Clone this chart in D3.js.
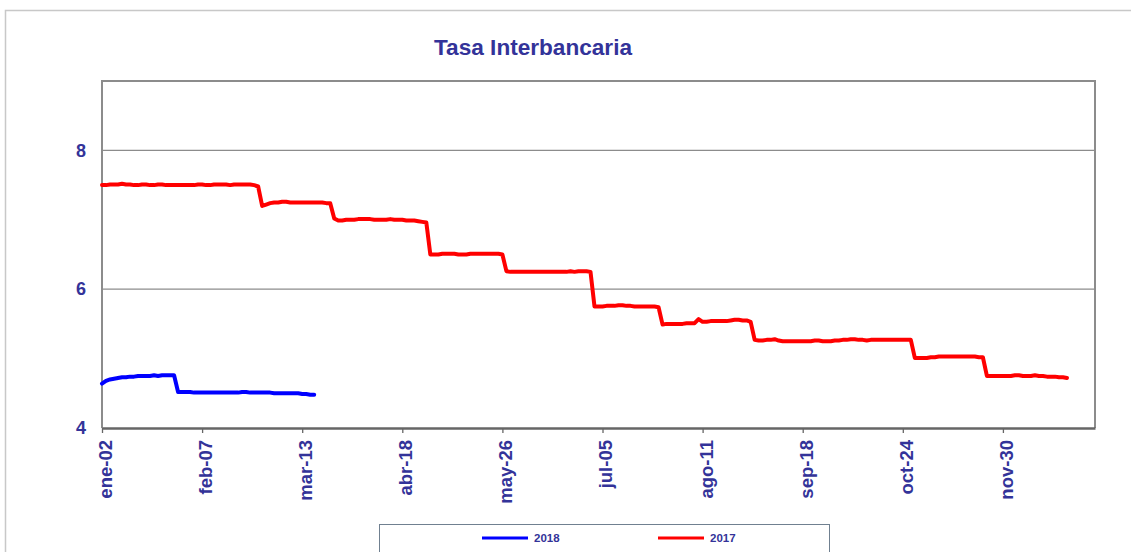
<!DOCTYPE html>
<html lang="es">
<head>
<meta charset="UTF-8">
<title>Tasa Interbancaria</title>
<script src="https://d3js.org/d3.v7.min.js"></script>
<style>
    body { margin: 0; background: #fff; }
    svg { display: block; font-family: "Liberation Sans", Arial, sans-serif; }
</style>
</head>
<body>
<svg id="chart" width="1131" height="552"></svg>
<script>
// category axis: one slot per business day, a label every 25 slots
const categoryCount = 249;
const tickStep = 25;
const tickLabels = ["ene-02", "feb-07", "mar-13", "abr-18", "may-26", "jul-05", "ago-11", "sep-18", "oct-24", "nov-30"];

const seriesNames = ["2018", "2017"];

// 2018 (blue)
const rates2018 = [
    4.64, 4.68, 4.70, 4.71, 4.72, 4.73, 4.73, 4.74, 4.74, 4.75,
    4.75, 4.75, 4.75, 4.76, 4.75, 4.76, 4.76, 4.76, 4.76, 4.52,
    4.52, 4.52, 4.52, 4.51, 4.51, 4.51, 4.51, 4.51, 4.51, 4.51,
    4.51, 4.51, 4.51, 4.51, 4.51, 4.52, 4.52, 4.51, 4.51, 4.51,
    4.51, 4.51, 4.51, 4.50, 4.50, 4.50, 4.50, 4.50, 4.50, 4.50,
    4.49, 4.49, 4.48, 4.48
];

// 2017 (red)
const rates2017 = [
    7.50, 7.50, 7.51, 7.51, 7.51, 7.52, 7.51, 7.51, 7.50, 7.50,
    7.51, 7.51, 7.50, 7.50, 7.51, 7.51, 7.50, 7.50, 7.50, 7.50,
    7.50, 7.50, 7.50, 7.50, 7.51, 7.51, 7.50, 7.50, 7.51, 7.51,
    7.51, 7.51, 7.50, 7.51, 7.51, 7.51, 7.51, 7.51, 7.50,
    7.48, 7.20, 7.22, 7.24,
    7.25, 7.25, 7.26, 7.26, 7.25, 7.25, 7.25, 7.25, 7.25, 7.25,
    7.25, 7.25, 7.25, 7.24, 7.24,
    7.02, 6.99, 6.99, 7.00, 7.00, 7.00, 7.01, 7.01, 7.01, 7.01,
    7.00, 7.00, 7.00, 7.00, 7.01, 7.00, 7.00, 7.00, 6.99, 6.99,
    6.99, 6.98, 6.97,
    6.96,
    6.50, 6.50, 6.50, 6.51, 6.51, 6.51, 6.51, 6.50, 6.50, 6.50,
    6.51, 6.51, 6.51, 6.51, 6.51, 6.51, 6.51, 6.51, 6.50,
    6.26, 6.25, 6.25, 6.25, 6.25, 6.25, 6.25, 6.25, 6.25, 6.25,
    6.25, 6.25, 6.25, 6.25, 6.25, 6.25, 6.26, 6.25, 6.26, 6.26,
    6.26, 6.25,
    5.75, 5.75, 5.75, 5.76, 5.76, 5.76, 5.77, 5.77, 5.76, 5.76,
    5.75, 5.75, 5.75, 5.75, 5.75, 5.75, 5.74,
    5.49, 5.50, 5.50, 5.50, 5.50, 5.50, 5.51, 5.51, 5.51, 5.57,
    5.53, 5.53, 5.54, 5.54, 5.54, 5.54, 5.54, 5.55, 5.56, 5.56,
    5.55, 5.55, 5.53,
    5.27, 5.26, 5.26, 5.27, 5.27, 5.28, 5.26, 5.25, 5.25, 5.25,
    5.25, 5.25, 5.25, 5.25, 5.25, 5.26, 5.26, 5.25, 5.25, 5.25,
    5.26, 5.26, 5.27, 5.27, 5.28, 5.28, 5.27, 5.27, 5.26, 5.27,
    5.27, 5.27, 5.27, 5.27, 5.27, 5.27, 5.27, 5.27, 5.27, 5.27,
    5.01, 5.01, 5.01, 5.01, 5.02, 5.02, 5.03, 5.03, 5.03, 5.03,
    5.03, 5.03, 5.03, 5.03, 5.03, 5.03, 5.02, 5.02,
    4.75, 4.75, 4.75, 4.75, 4.75, 4.75, 4.75, 4.76, 4.76, 4.75,
    4.75, 4.75, 4.76, 4.75, 4.75, 4.74, 4.74, 4.74, 4.73, 4.73,
    4.72
];

const yTicks = [4, 6, 8];
const yGrid = [6, 8];

const textColor = "#333399";
const svg = d3.select("#chart");

// outer chart frame
svg.append("rect")
    .attr("x", 5.5).attr("y", 10.5)
    .attr("width", 1140).attr("height", 560)
    .attr("fill", "none")
    .attr("stroke", "#c8c8c8")
    .attr("stroke-width", 1.5);

const plot = { left: 102, top: 81, right: 1095, bottom: 428 };

const x = d3.scaleLinear()
    .domain([0, categoryCount - 1])
    .range([plot.left, plot.right]);

const y = d3.scaleLinear()
    .domain([4, 9])
    .range([plot.bottom, plot.top]);

// title
svg.append("text")
    .attr("x", 533).attr("y", 55)
    .attr("text-anchor", "middle")
    .attr("font-size", 22.6)
    .attr("font-weight", "bold")
    .attr("fill", textColor)
    .text("Tasa Interbancaria");

// gridlines
svg.selectAll("line.grid")
    .data(yGrid)
    .enter().append("line")
    .attr("class", "grid")
    .attr("x1", plot.left).attr("x2", plot.right)
    .attr("y1", d => y(d)).attr("y2", d => y(d))
    .attr("stroke", "#8c8c8c")
    .attr("stroke-width", 1.3);

// plot frame
svg.append("path")
    .attr("d", `M${plot.left},${plot.bottom}V${plot.top}H${plot.right}V${plot.bottom}`)
    .attr("fill", "none")
    .attr("stroke", "#8c8c8c")
    .attr("stroke-width", 2);

// x axis
const tickIdx = d3.range(0, categoryCount, tickStep).slice(0, tickLabels.length);
const xAxis = d3.axisBottom(x)
    .tickValues(tickIdx)
    .tickFormat((d, i) => tickLabels[i])
    .tickSize(5)
    .tickSizeOuter(0);

const gx = svg.append("g")
    .attr("transform", `translate(0,${plot.bottom})`)
    .call(xAxis);
gx.select(".domain").attr("stroke", "#666").attr("stroke-width", 2.5);
gx.selectAll(".tick line").attr("stroke", "#666").attr("stroke-width", 1.3);
gx.selectAll(".tick text")
    .attr("fill", textColor)
    .attr("font-size", 18.5)
    .attr("font-weight", "bold")
    .attr("font-family", "Liberation Sans, Arial, sans-serif")
    .attr("text-anchor", "end")
    .attr("transform", "rotate(-90)")
    .attr("x", -12)
    .attr("y", 3)
    .attr("dy", "0.35em");

// y axis labels
const yAxis = d3.axisLeft(y)
    .tickValues(yTicks)
    .tickFormat(d3.format("d"))
    .tickSize(0)
    .tickPadding(16);

const gy = svg.append("g")
    .attr("transform", `translate(${plot.left},0)`)
    .call(yAxis);
gy.select(".domain").remove();
gy.selectAll(".tick text")
    .attr("fill", textColor)
    .attr("font-size", 18)
    .attr("font-weight", "bold")
    .attr("font-family", "Liberation Sans, Arial, sans-serif");

// lines
const line = d3.line()
    .x((d, i) => x(i))
    .y(d => y(d));

svg.append("path")
    .datum(rates2017)
    .attr("d", line)
    .attr("fill", "none")
    .attr("stroke", "#ff0000")
    .attr("stroke-width", 4)
    .attr("stroke-linejoin", "round")
    .attr("stroke-linecap", "round");

svg.append("path")
    .datum(rates2018)
    .attr("d", line)
    .attr("fill", "none")
    .attr("stroke", "#0000ff")
    .attr("stroke-width", 4)
    .attr("stroke-linejoin", "round")
    .attr("stroke-linecap", "round");

// legend
svg.append("rect")
    .attr("x", 379.5).attr("y", 524.5)
    .attr("width", 450).attr("height", 40)
    .attr("fill", "#fff")
    .attr("stroke", "#708090")
    .attr("stroke-width", 1);

const legendItems = [
    { name: seriesNames[0], color: "#0000ff", x: 482 },
    { name: seriesNames[1], color: "#ff0000", x: 658 }
];

const lg = svg.selectAll("g.legend")
    .data(legendItems)
    .enter().append("g")
    .attr("class", "legend")
    .attr("transform", d => `translate(${d.x},538)`);

lg.append("line")
    .attr("x1", 0).attr("x2", 46)
    .attr("stroke", d => d.color)
    .attr("stroke-width", 3);

lg.append("text")
    .attr("x", 52)
    .attr("dy", "0.35em")
    .attr("font-size", 11.5)
    .attr("font-weight", "bold")
    .attr("fill", textColor)
    .text(d => d.name);
</script>
</body>
</html>
